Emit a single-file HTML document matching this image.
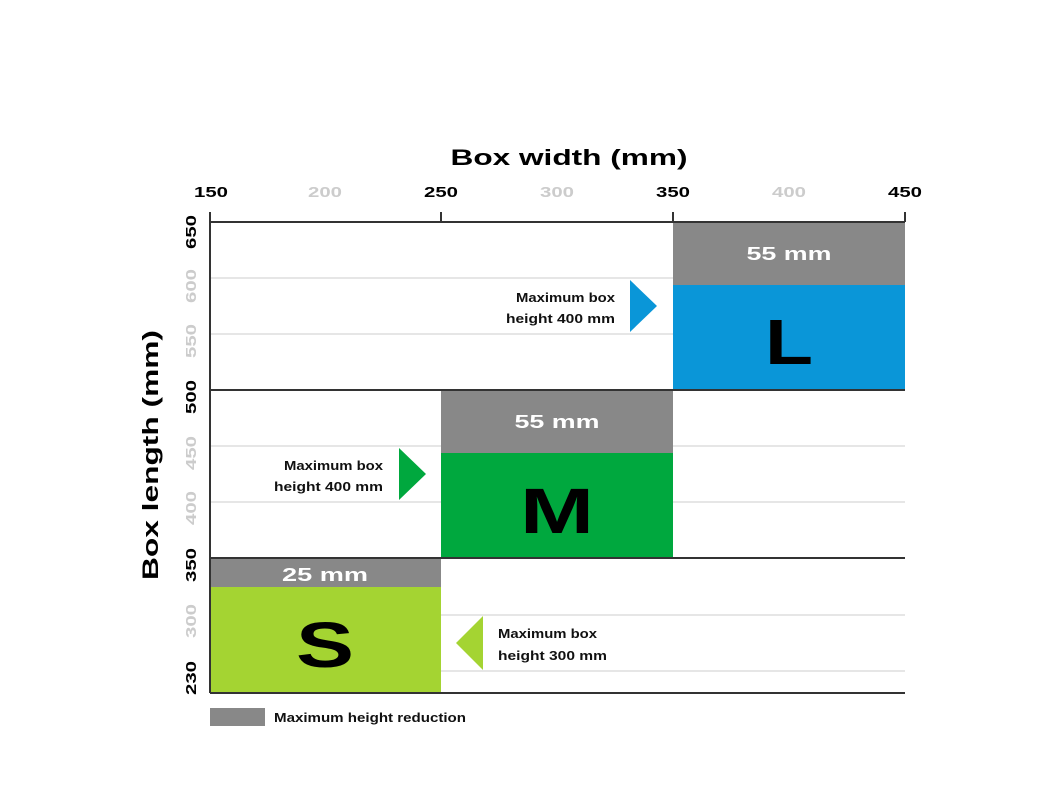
<!DOCTYPE html>
<html><head><style>body{margin:0;background:#fff}svg{display:block}</style></head><body>
<svg width="1050" height="788" xmlns="http://www.w3.org/2000/svg" font-family="Liberation Sans, sans-serif" font-weight="bold">
<rect width="1050" height="788" fill="#fff"/>
<text x="569" y="165" font-size="22" text-anchor="middle" fill="#000" textLength="237" lengthAdjust="spacingAndGlyphs">Box width (mm)</text>
<g font-size="15" text-anchor="middle">
<text x="211" y="197" fill="#000" textLength="34" lengthAdjust="spacingAndGlyphs">150</text>
<text x="325" y="197" fill="#ccc" textLength="34" lengthAdjust="spacingAndGlyphs">200</text>
<text x="441" y="197" fill="#000" textLength="34" lengthAdjust="spacingAndGlyphs">250</text>
<text x="557" y="197" fill="#ccc" textLength="34" lengthAdjust="spacingAndGlyphs">300</text>
<text x="673" y="197" fill="#000" textLength="34" lengthAdjust="spacingAndGlyphs">350</text>
<text x="789" y="197" fill="#ccc" textLength="34" lengthAdjust="spacingAndGlyphs">400</text>
<text x="905" y="197" fill="#000" textLength="34" lengthAdjust="spacingAndGlyphs">450</text>
</g>
<g stroke="#ddd" stroke-width="1.5">
<line x1="210" y1="278" x2="905" y2="278"/><line x1="210" y1="334" x2="905" y2="334"/>
<line x1="210" y1="446" x2="905" y2="446"/><line x1="210" y1="502" x2="905" y2="502"/>
<line x1="210" y1="615" x2="905" y2="615"/><line x1="210" y1="671" x2="905" y2="671"/>
</g>
<rect x="673" y="222" width="232" height="63" fill="#888"/>
<rect x="673" y="285" width="232" height="105" fill="#0a96d8"/>
<rect x="441" y="390" width="232" height="63" fill="#888"/>
<rect x="441" y="453" width="232" height="105" fill="#00a83e"/>
<rect x="210" y="558" width="231" height="29" fill="#888"/>
<rect x="210" y="587" width="231" height="106" fill="#a4d432"/>
<g stroke="#333" stroke-width="2">
<line x1="210" y1="222" x2="905" y2="222"/>
<line x1="210" y1="212" x2="210" y2="693"/>
<line x1="441" y1="212" x2="441" y2="222"/><line x1="673" y1="212" x2="673" y2="222"/><line x1="905" y1="212" x2="905" y2="222"/>
<line x1="210" y1="390" x2="905" y2="390"/>
<line x1="210" y1="558" x2="905" y2="558"/>
<line x1="210" y1="693" x2="905" y2="693"/>
</g>
<g font-size="18" fill="#fff" text-anchor="middle">
<text x="789" y="260" textLength="85" lengthAdjust="spacingAndGlyphs">55 mm</text>
<text x="557" y="428" textLength="85" lengthAdjust="spacingAndGlyphs">55 mm</text>
<text x="325" y="581" textLength="86" lengthAdjust="spacingAndGlyphs">25 mm</text>
</g>
<g font-size="64" fill="#000" text-anchor="middle">
<text x="789" y="364" textLength="48" lengthAdjust="spacingAndGlyphs">L</text>
<text x="557" y="533" textLength="74" lengthAdjust="spacingAndGlyphs">M</text>
<text x="325" y="667" textLength="58" lengthAdjust="spacingAndGlyphs">S</text>
</g>
<polygon points="630,280 657,306 630,332" fill="#0a96d8"/>
<polygon points="399,448 426,474 399,500" fill="#00a83e"/>
<polygon points="483,616 456,643 483,670" fill="#a4d432"/>
<g font-size="13" fill="#111">
<text x="615" y="302" text-anchor="end" textLength="99" lengthAdjust="spacingAndGlyphs">Maximum box</text>
<text x="615" y="323" text-anchor="end" textLength="109" lengthAdjust="spacingAndGlyphs">height 400 mm</text>
<text x="383" y="470" text-anchor="end" textLength="99" lengthAdjust="spacingAndGlyphs">Maximum box</text>
<text x="383" y="491" text-anchor="end" textLength="109" lengthAdjust="spacingAndGlyphs">height 400 mm</text>
<text x="498" y="638" textLength="99" lengthAdjust="spacingAndGlyphs">Maximum box</text>
<text x="498" y="660" textLength="109" lengthAdjust="spacingAndGlyphs">height 300 mm</text>
<text x="274" y="722" textLength="192" lengthAdjust="spacingAndGlyphs">Maximum height reduction</text>
</g>
<rect x="210" y="708" width="55" height="18" fill="#888"/>
<g font-size="15" text-anchor="middle">
<text transform="translate(196,232) rotate(-90)" fill="#000" textLength="34" lengthAdjust="spacingAndGlyphs">650</text>
<text transform="translate(196,286) rotate(-90)" fill="#ccc" textLength="34" lengthAdjust="spacingAndGlyphs">600</text>
<text transform="translate(196,341) rotate(-90)" fill="#ccc" textLength="34" lengthAdjust="spacingAndGlyphs">550</text>
<text transform="translate(196,397) rotate(-90)" fill="#000" textLength="34" lengthAdjust="spacingAndGlyphs">500</text>
<text transform="translate(196,453) rotate(-90)" fill="#ccc" textLength="34" lengthAdjust="spacingAndGlyphs">450</text>
<text transform="translate(196,508) rotate(-90)" fill="#ccc" textLength="34" lengthAdjust="spacingAndGlyphs">400</text>
<text transform="translate(196,565) rotate(-90)" fill="#000" textLength="34" lengthAdjust="spacingAndGlyphs">350</text>
<text transform="translate(196,621) rotate(-90)" fill="#ccc" textLength="34" lengthAdjust="spacingAndGlyphs">300</text>
<text transform="translate(196,678) rotate(-90)" fill="#000" textLength="34" lengthAdjust="spacingAndGlyphs">230</text>
</g>
<text transform="translate(158,455) rotate(-90)" font-size="22" text-anchor="middle" fill="#000" textLength="250" lengthAdjust="spacingAndGlyphs">Box length (mm)</text>
</svg>
</body></html>
